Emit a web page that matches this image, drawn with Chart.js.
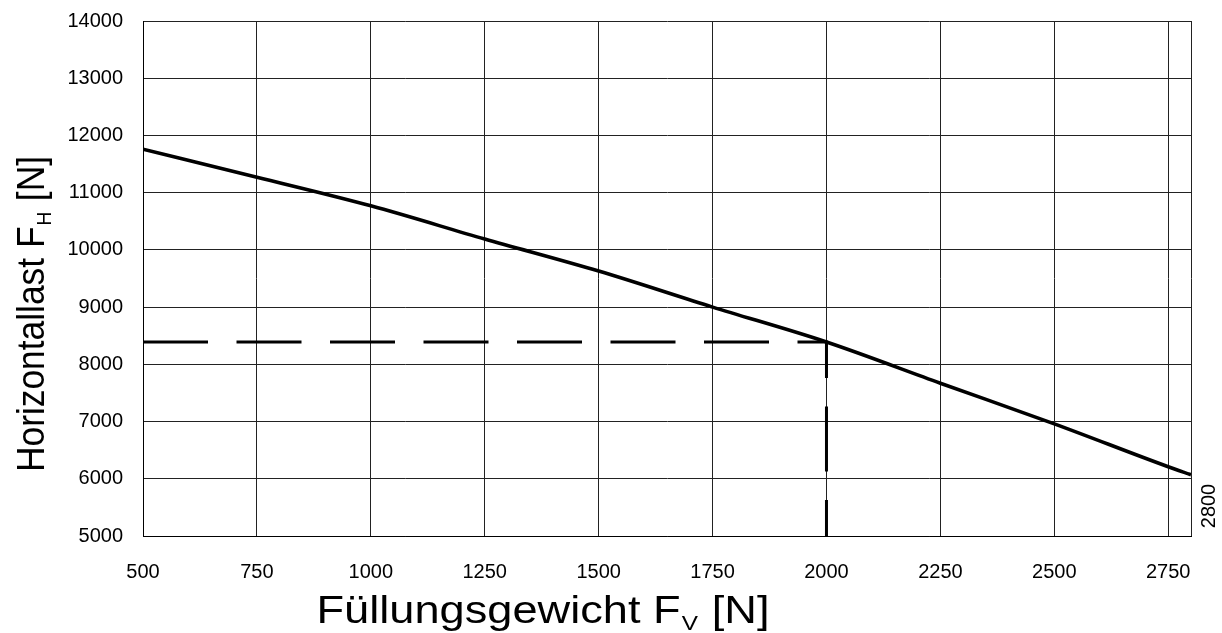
<!DOCTYPE html>
<html><head><meta charset="utf-8">
<script src="https://cdn.jsdelivr.net/npm/chart.js@4"></script>
<style>html,body{margin:0;padding:0;background:#fff}#wrap{width:1222px;height:633px}</style>
</head><body><div id="wrap"><canvas id="c" width="1222" height="633"></canvas></div>
<script>
const fillWeights = [500, 750, 1000, 1250, 1500, 1750, 2000, 2250, 2500, 2750, 2800];
const horizontalLoads = [11760, 11270, 10770, 10190, 9630, 9000, 8390, 7670, 6960, 6210, 6070];
const exampleX = [500, 2000, 2000];
const exampleY = [8390, 8390, 5000];
const xTickValues = [500, 750, 1000, 1250, 1500, 1750, 2000, 2250, 2500, 2750, 2800];
const xEndLabel = '2800';
const xTitleParts = ['Füllungsgewicht F', 'V', ' [N]'];
const yTitleParts = ['Horizontallast F', 'H', ' [N]'];

const FONT = '"Liberation Sans", Arial, sans-serif';

function drawSubText(ctx, parts, size, subSize, targetWidth) {
  ctx.font = size + 'px ' + FONT;
  const w0 = ctx.measureText(parts[0]).width;
  const w2 = ctx.measureText(parts[2]).width;
  ctx.font = subSize + 'px ' + FONT;
  const w1 = ctx.measureText(parts[1]).width;
  const total = w0 + w1 + w2 + 2;
  const sx = targetWidth / total;
  ctx.scale(sx, 1);
  let x = -total / 2;
  ctx.textAlign = 'left';
  ctx.textBaseline = 'alphabetic';
  ctx.font = size + 'px ' + FONT;
  ctx.fillText(parts[0], x, 0); x += w0 + 1;
  ctx.font = subSize + 'px ' + FONT;
  ctx.fillText(parts[1], x, 7); x += w1 + 1;
  ctx.font = size + 'px ' + FONT;
  ctx.fillText(parts[2], x, 0);
}

const labelsPlugin = {
  id: 'labels',
  afterDraw(chart) {
    const ctx = chart.ctx;
    const a = chart.chartArea;
    ctx.save();
    ctx.fillStyle = '#000';
    ctx.save();
    ctx.translate(543, 623);
    drawSubText(ctx, xTitleParts, 39, 21, 453);
    ctx.restore();
    ctx.save();
    ctx.translate(44, 314);
    ctx.rotate(-Math.PI / 2);
    drawSubText(ctx, yTitleParts, 39, 21, 316);
    ctx.restore();
    const xe = chart.scales.x.getPixelForValue(2800);
    ctx.save();
    ctx.translate(xe + 18, a.bottom - 30);
    ctx.rotate(-Math.PI / 2);
    ctx.font = '20px ' + FONT;
    ctx.textAlign = 'center';
    ctx.textBaseline = 'middle';
    ctx.fillText(xEndLabel, 0, 0);
    ctx.restore();
    ctx.restore();
  }
};

new Chart(document.getElementById('c'), {
  type: 'line',
  data: {
    datasets: [
      {
        data: fillWeights.map((x, i) => ({ x, y: horizontalLoads[i] })),
        borderColor: '#000',
        borderWidth: 3.6,
        pointRadius: 0,
        cubicInterpolationMode: 'monotone',
        fill: false
      },
      {
        data: exampleX.map((x, i) => ({ x, y: exampleY[i] })),
        borderColor: '#000',
        borderWidth: 3,
        borderDash: [65, 28.5],
        borderDashOffset: 0,
        pointRadius: 0,
        tension: 0,
        fill: false
      }
    ]
  },
  options: {
    responsive: false,
    animation: false,
    devicePixelRatio: 1,
    layout: { padding: { left: 0, right: 31, top: 21, bottom: 0 } },
    plugins: { legend: { display: false }, tooltip: { enabled: false } },
    scales: {
      x: {
        type: 'linear',
        min: 500, max: 2800,
        afterBuildTicks(s) { s.ticks = xTickValues.map(v => ({ value: v })); },
        afterFit(s) { s.height = 97; s.paddingLeft = 0; s.paddingRight = 0; },
        ticks: {
          autoSkip: false, maxRotation: 0, padding: 24, color: '#000',
          font: { family: FONT, size: 20 },
          callback: v => (v === 2800 ? '' : String(v))
        },
        grid: { color: '#222', lineWidth: 1, drawTicks: false },
        border: { display: true, color: '#000', width: 1 }
      },
      y: {
        type: 'linear',
        min: 5000, max: 14000,
        afterFit(s) { s.width = 143; s.paddingTop = 0; s.paddingBottom = 0; },
        ticks: {
          stepSize: 1000, padding: 20, color: '#000',
          font: { family: FONT, size: 20 },
          callback: v => String(v)
        },
        grid: { color: '#222', lineWidth: 1, drawTicks: false },
        border: { display: true, color: '#000', width: 1 }
      }
    }
  },
  plugins: [labelsPlugin]
});
</script></body></html>
